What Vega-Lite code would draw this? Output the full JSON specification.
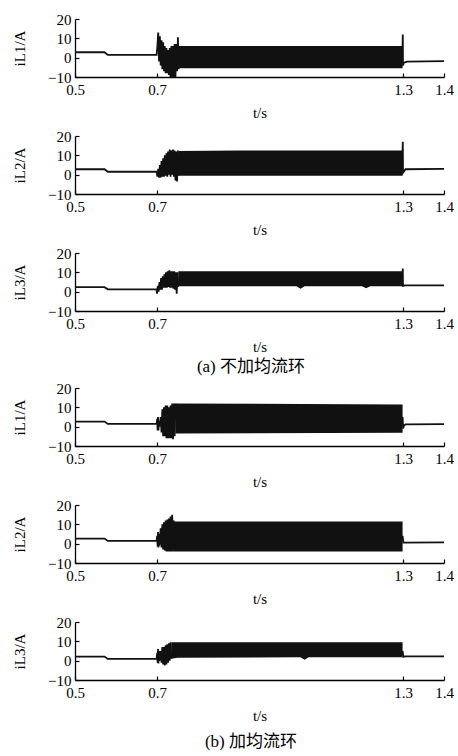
{
  "$schema": "https://vega.github.io/schema/vega-lite/v6.json",
  "padding": {"left": 12, "top": 12, "right": 0, "bottom": 0},
  "background": "white",
  "datasets": {
    "lines": [
      {"p":1,"seg":"a","t":0.5,"y":2.8},{"p":1,"seg":"a","t":0.572,"y":2.8},{"p":1,"seg":"a","t":0.58,"y":1.4},{"p":1,"seg":"a","t":0.699,"y":1.4},
      {"p":1,"seg":"a","t":0.701,"y":6},{"p":1,"seg":"a","t":0.703,"y":13},{"p":1,"seg":"a","t":0.705,"y":-2},{"p":1,"seg":"a","t":0.707,"y":11},{"p":1,"seg":"a","t":0.709,"y":-4},{"p":1,"seg":"a","t":0.711,"y":9},{"p":1,"seg":"a","t":0.713,"y":-6},{"p":1,"seg":"a","t":0.715,"y":8},{"p":1,"seg":"a","t":0.717,"y":-7},{"p":1,"seg":"a","t":0.719,"y":6},{"p":1,"seg":"a","t":0.721,"y":-8},{"p":1,"seg":"a","t":0.723,"y":5},{"p":1,"seg":"a","t":0.725,"y":-8},{"p":1,"seg":"a","t":0.727,"y":4},{"p":1,"seg":"a","t":0.729,"y":-9},{"p":1,"seg":"a","t":0.731,"y":5},{"p":1,"seg":"a","t":0.733,"y":-10},{"p":1,"seg":"a","t":0.735,"y":6},{"p":1,"seg":"a","t":0.737,"y":-10},{"p":1,"seg":"a","t":0.739,"y":6},{"p":1,"seg":"a","t":0.741,"y":-10},{"p":1,"seg":"a","t":0.743,"y":7},{"p":1,"seg":"a","t":0.745,"y":-10},{"p":1,"seg":"a","t":0.747,"y":7},{"p":1,"seg":"a","t":0.749,"y":-7},{"p":1,"seg":"a","t":0.751,"y":10.5},{"p":1,"seg":"a","t":0.753,"y":-6},{"p":1,"seg":"a","t":0.755,"y":6},
      {"p":1,"seg":"b","t":1.299,"y":6},{"p":1,"seg":"b","t":1.2995,"y":12},{"p":1,"seg":"b","t":1.3,"y":-4},{"p":1,"seg":"b","t":1.302,"y":-2.6},{"p":1,"seg":"b","t":1.31,"y":-2},{"p":1,"seg":"b","t":1.4,"y":-1.8},

      {"p":2,"seg":"a","t":0.5,"y":2.8},{"p":2,"seg":"a","t":0.572,"y":2.8},{"p":2,"seg":"a","t":0.58,"y":1.5},{"p":2,"seg":"a","t":0.699,"y":1.5},
      {"p":2,"seg":"a","t":0.701,"y":-1},{"p":2,"seg":"a","t":0.703,"y":3},{"p":2,"seg":"a","t":0.705,"y":-1.5},{"p":2,"seg":"a","t":0.707,"y":5},{"p":2,"seg":"a","t":0.709,"y":-1.5},{"p":2,"seg":"a","t":0.711,"y":7},{"p":2,"seg":"a","t":0.713,"y":-1},{"p":2,"seg":"a","t":0.715,"y":8.5},{"p":2,"seg":"a","t":0.717,"y":-1},{"p":2,"seg":"a","t":0.719,"y":10},{"p":2,"seg":"a","t":0.721,"y":-0.5},{"p":2,"seg":"a","t":0.723,"y":11},{"p":2,"seg":"a","t":0.725,"y":-1},{"p":2,"seg":"a","t":0.727,"y":12},{"p":2,"seg":"a","t":0.729,"y":0},{"p":2,"seg":"a","t":0.731,"y":13},{"p":2,"seg":"a","t":0.733,"y":-1},{"p":2,"seg":"a","t":0.735,"y":12.5},{"p":2,"seg":"a","t":0.737,"y":0},{"p":2,"seg":"a","t":0.739,"y":13},{"p":2,"seg":"a","t":0.741,"y":-1},{"p":2,"seg":"a","t":0.743,"y":12.5},{"p":2,"seg":"a","t":0.745,"y":-3},{"p":2,"seg":"a","t":0.747,"y":12},{"p":2,"seg":"a","t":0.749,"y":-3.5},{"p":2,"seg":"a","t":0.751,"y":12.5},{"p":2,"seg":"a","t":0.753,"y":-0.5},
      {"p":2,"seg":"b","t":1.299,"y":12},{"p":2,"seg":"b","t":1.2995,"y":17},{"p":2,"seg":"b","t":1.3,"y":1},{"p":2,"seg":"b","t":1.302,"y":1.5},{"p":2,"seg":"b","t":1.306,"y":2.8},{"p":2,"seg":"b","t":1.4,"y":3},

      {"p":3,"seg":"a","t":0.5,"y":2.3},{"p":3,"seg":"a","t":0.572,"y":2.3},{"p":3,"seg":"a","t":0.58,"y":1.2},{"p":3,"seg":"a","t":0.699,"y":1.2},
      {"p":3,"seg":"a","t":0.7,"y":-1},{"p":3,"seg":"a","t":0.702,"y":3},{"p":3,"seg":"a","t":0.704,"y":0},{"p":3,"seg":"a","t":0.706,"y":5},{"p":3,"seg":"a","t":0.708,"y":1},{"p":3,"seg":"a","t":0.71,"y":7},{"p":3,"seg":"a","t":0.712,"y":1},{"p":3,"seg":"a","t":0.714,"y":8},{"p":3,"seg":"a","t":0.716,"y":2},{"p":3,"seg":"a","t":0.718,"y":9},{"p":3,"seg":"a","t":0.72,"y":2},{"p":3,"seg":"a","t":0.722,"y":10},{"p":3,"seg":"a","t":0.724,"y":2},{"p":3,"seg":"a","t":0.726,"y":10.5},{"p":3,"seg":"a","t":0.728,"y":2.5},{"p":3,"seg":"a","t":0.73,"y":11},{"p":3,"seg":"a","t":0.732,"y":2},{"p":3,"seg":"a","t":0.734,"y":10.5},{"p":3,"seg":"a","t":0.736,"y":2},{"p":3,"seg":"a","t":0.738,"y":10.5},{"p":3,"seg":"a","t":0.74,"y":1.5},{"p":3,"seg":"a","t":0.742,"y":10.5},{"p":3,"seg":"a","t":0.744,"y":1},{"p":3,"seg":"a","t":0.746,"y":10},{"p":3,"seg":"a","t":0.748,"y":-1},{"p":3,"seg":"a","t":0.75,"y":10},{"p":3,"seg":"a","t":0.752,"y":2.5},
      {"p":3,"seg":"b","t":1.299,"y":10},{"p":3,"seg":"b","t":1.2995,"y":12},{"p":3,"seg":"b","t":1.3,"y":3},{"p":3,"seg":"b","t":1.305,"y":3.3},{"p":3,"seg":"b","t":1.4,"y":3.3},

      {"p":4,"seg":"a","t":0.5,"y":2.6},{"p":4,"seg":"a","t":0.572,"y":2.6},{"p":4,"seg":"a","t":0.58,"y":1.4},{"p":4,"seg":"a","t":0.699,"y":1.4},
      {"p":4,"seg":"a","t":0.7005,"y":4},{"p":4,"seg":"a","t":0.7015,"y":-2},{"p":4,"seg":"a","t":0.7025,"y":5},{"p":4,"seg":"a","t":0.7035,"y":-2},{"p":4,"seg":"a","t":0.7045,"y":3},{"p":4,"seg":"a","t":0.7055,"y":0},{"p":4,"seg":"a","t":0.707,"y":1.5},{"p":4,"seg":"a","t":0.709,"y":5},{"p":4,"seg":"a","t":0.711,"y":-3},{"p":4,"seg":"a","t":0.713,"y":9},{"p":4,"seg":"a","t":0.715,"y":-5},{"p":4,"seg":"a","t":0.717,"y":10},{"p":4,"seg":"a","t":0.719,"y":-5},{"p":4,"seg":"a","t":0.721,"y":11},{"p":4,"seg":"a","t":0.723,"y":-6},{"p":4,"seg":"a","t":0.725,"y":11},{"p":4,"seg":"a","t":0.727,"y":-6},{"p":4,"seg":"a","t":0.729,"y":10},{"p":4,"seg":"a","t":0.731,"y":-6},{"p":4,"seg":"a","t":0.733,"y":11},{"p":4,"seg":"a","t":0.735,"y":-6},{"p":4,"seg":"a","t":0.737,"y":12},{"p":4,"seg":"a","t":0.739,"y":-6.5},{"p":4,"seg":"a","t":0.741,"y":12},{"p":4,"seg":"a","t":0.743,"y":-5},{"p":4,"seg":"a","t":0.745,"y":12},
      {"p":4,"seg":"b","t":1.299,"y":5},{"p":4,"seg":"b","t":1.3005,"y":-1},{"p":4,"seg":"b","t":1.302,"y":0.5},{"p":4,"seg":"b","t":1.306,"y":1.2},{"p":4,"seg":"b","t":1.4,"y":1.3},

      {"p":5,"seg":"a","t":0.5,"y":2.6},{"p":5,"seg":"a","t":0.572,"y":2.6},{"p":5,"seg":"a","t":0.58,"y":1.4},{"p":5,"seg":"a","t":0.699,"y":1.4},
      {"p":5,"seg":"a","t":0.7005,"y":4},{"p":5,"seg":"a","t":0.7015,"y":-1.5},{"p":5,"seg":"a","t":0.7025,"y":6},{"p":5,"seg":"a","t":0.7035,"y":-2},{"p":5,"seg":"a","t":0.7045,"y":5},{"p":5,"seg":"a","t":0.7055,"y":-1},{"p":5,"seg":"a","t":0.707,"y":2},{"p":5,"seg":"a","t":0.709,"y":8},{"p":5,"seg":"a","t":0.711,"y":-2},{"p":5,"seg":"a","t":0.713,"y":10},{"p":5,"seg":"a","t":0.715,"y":-3},{"p":5,"seg":"a","t":0.717,"y":11},{"p":5,"seg":"a","t":0.719,"y":-3.5},{"p":5,"seg":"a","t":0.721,"y":12},{"p":5,"seg":"a","t":0.723,"y":-4},{"p":5,"seg":"a","t":0.725,"y":12.5},{"p":5,"seg":"a","t":0.727,"y":-4},{"p":5,"seg":"a","t":0.729,"y":13},{"p":5,"seg":"a","t":0.731,"y":-4},{"p":5,"seg":"a","t":0.733,"y":14},{"p":5,"seg":"a","t":0.735,"y":-4},{"p":5,"seg":"a","t":0.737,"y":15},{"p":5,"seg":"a","t":0.739,"y":-4},{"p":5,"seg":"a","t":0.741,"y":12},
      {"p":5,"seg":"b","t":1.299,"y":4},{"p":5,"seg":"b","t":1.301,"y":0.5},{"p":5,"seg":"b","t":1.4,"y":0.7},

      {"p":6,"seg":"a","t":0.5,"y":2.1},{"p":6,"seg":"a","t":0.572,"y":2.1},{"p":6,"seg":"a","t":0.58,"y":0.9},{"p":6,"seg":"a","t":0.699,"y":0.9},
      {"p":6,"seg":"a","t":0.7005,"y":4},{"p":6,"seg":"a","t":0.7015,"y":-1},{"p":6,"seg":"a","t":0.7025,"y":6},{"p":6,"seg":"a","t":0.7035,"y":-1.5},{"p":6,"seg":"a","t":0.7045,"y":5},{"p":6,"seg":"a","t":0.7055,"y":0},{"p":6,"seg":"a","t":0.707,"y":1},{"p":6,"seg":"a","t":0.709,"y":5},{"p":6,"seg":"a","t":0.711,"y":-1},{"p":6,"seg":"a","t":0.713,"y":7},{"p":6,"seg":"a","t":0.715,"y":-2},{"p":6,"seg":"a","t":0.717,"y":7},{"p":6,"seg":"a","t":0.719,"y":-2.5},{"p":6,"seg":"a","t":0.721,"y":8},{"p":6,"seg":"a","t":0.723,"y":-2},{"p":6,"seg":"a","t":0.725,"y":8.5},{"p":6,"seg":"a","t":0.727,"y":-1},{"p":6,"seg":"a","t":0.729,"y":9},{"p":6,"seg":"a","t":0.731,"y":0},{"p":6,"seg":"a","t":0.733,"y":9.5},{"p":6,"seg":"a","t":0.735,"y":1},
      {"p":6,"seg":"b","t":1.299,"y":5},{"p":6,"seg":"b","t":1.301,"y":2},{"p":6,"seg":"b","t":1.305,"y":2.2},{"p":6,"seg":"b","t":1.4,"y":2.2}
    ],
    "bands": [
      {"p":1,"t":0.754,"lo":-5.5,"hi":6},{"p":1,"t":1.299,"lo":-5.5,"hi":6},
      {"p":2,"t":0.752,"lo":-0.6,"hi":12.3},{"p":2,"t":0.9,"lo":-0.6,"hi":12.5},{"p":2,"t":1.299,"lo":-0.6,"hi":12.5},
      {"p":3,"t":0.752,"lo":2.8,"hi":10.5},{"p":3,"t":1.04,"lo":2.8,"hi":10.5},{"p":3,"t":1.05,"lo":1.5,"hi":10.5},{"p":3,"t":1.06,"lo":2.8,"hi":10.5},{"p":3,"t":1.2,"lo":2.8,"hi":10.5},{"p":3,"t":1.21,"lo":1.8,"hi":10.5},{"p":3,"t":1.22,"lo":2.8,"hi":10.5},{"p":3,"t":1.299,"lo":2.8,"hi":10.5},
      {"p":4,"t":0.745,"lo":-3.5,"hi":12},{"p":4,"t":1.299,"lo":-3.2,"hi":11.5},
      {"p":5,"t":0.741,"lo":-4,"hi":11.5},{"p":5,"t":1.299,"lo":-4,"hi":11.5},
      {"p":6,"t":0.735,"lo":1,"hi":9.5},{"p":6,"t":0.75,"lo":1.5,"hi":9.5},{"p":6,"t":1.05,"lo":1.8,"hi":9.5},{"p":6,"t":1.06,"lo":0.5,"hi":9.5},{"p":6,"t":1.07,"lo":1.8,"hi":9.5},{"p":6,"t":1.299,"lo":1.8,"hi":9.5}
    ]
  },
  "vconcat": [
    {
      "spacing": 9,
      "title": {"text": "(a) 不加均流环", "orient": "bottom", "anchor": "middle", "fontSize": 17, "fontWeight": "normal", "font": "Liberation Serif, Noto Sans CJK SC", "offset": 5, "dx": 18},
      "vconcat": [
        {"width": 369, "height": 58, "layer": [
          {"data": {"name": "bands"}, "transform": [{"filter": "datum.p == 1"}], "mark": {"type": "area", "color": "#111"},
           "encoding": {"x": {"field": "t", "type": "quantitative", "scale": {"domain": [0.5, 1.4]}, "axis": {"values": [0.5, 0.7, 1.3, 1.4], "format": ".1f", "title": "t/s"}},
                        "y": {"field": "lo", "type": "quantitative", "scale": {"domain": [-10, 20]}, "axis": {"values": [-10, 0, 10, 20], "title": "iL1/A"}},
                        "y2": {"field": "hi"}}},
          {"data": {"name": "lines"}, "transform": [{"filter": "datum.p == 1"}], "mark": {"type": "line", "color": "#111", "strokeWidth": 1.8},
           "encoding": {"x": {"field": "t", "type": "quantitative", "scale": {"domain": [0.5, 1.4]}, "axis": {"values": [0.5, 0.7, 1.3, 1.4], "format": ".1f", "title": "t/s"}},
                        "y": {"field": "y", "type": "quantitative", "scale": {"domain": [-10, 20]}, "axis": {"values": [-10, 0, 10, 20], "title": "iL1/A"}}, "detail": {"field": "seg"}}}
        ]},
        {"width": 369, "height": 58, "layer": [
          {"data": {"name": "bands"}, "transform": [{"filter": "datum.p == 2"}], "mark": {"type": "area", "color": "#111"},
           "encoding": {"x": {"field": "t", "type": "quantitative", "scale": {"domain": [0.5, 1.4]}, "axis": {"values": [0.5, 0.7, 1.3, 1.4], "format": ".1f", "title": "t/s"}},
                        "y": {"field": "lo", "type": "quantitative", "scale": {"domain": [-10, 20]}, "axis": {"values": [-10, 0, 10, 20], "title": "iL2/A"}},
                        "y2": {"field": "hi"}}},
          {"data": {"name": "lines"}, "transform": [{"filter": "datum.p == 2"}], "mark": {"type": "line", "color": "#111", "strokeWidth": 1.8},
           "encoding": {"x": {"field": "t", "type": "quantitative", "scale": {"domain": [0.5, 1.4]}, "axis": {"values": [0.5, 0.7, 1.3, 1.4], "format": ".1f", "title": "t/s"}},
                        "y": {"field": "y", "type": "quantitative", "scale": {"domain": [-10, 20]}, "axis": {"values": [-10, 0, 10, 20], "title": "iL2/A"}}, "detail": {"field": "seg"}}}
        ]},
        {"width": 369, "height": 58, "layer": [
          {"data": {"name": "bands"}, "transform": [{"filter": "datum.p == 3"}], "mark": {"type": "area", "color": "#111"},
           "encoding": {"x": {"field": "t", "type": "quantitative", "scale": {"domain": [0.5, 1.4]}, "axis": {"values": [0.5, 0.7, 1.3, 1.4], "format": ".1f", "title": "t/s"}},
                        "y": {"field": "lo", "type": "quantitative", "scale": {"domain": [-10, 20]}, "axis": {"values": [-10, 0, 10, 20], "title": "iL3/A"}},
                        "y2": {"field": "hi"}}},
          {"data": {"name": "lines"}, "transform": [{"filter": "datum.p == 3"}], "mark": {"type": "line", "color": "#111", "strokeWidth": 1.8},
           "encoding": {"x": {"field": "t", "type": "quantitative", "scale": {"domain": [0.5, 1.4]}, "axis": {"values": [0.5, 0.7, 1.3, 1.4], "format": ".1f", "title": "t/s"}},
                        "y": {"field": "y", "type": "quantitative", "scale": {"domain": [-10, 20]}, "axis": {"values": [-10, 0, 10, 20], "title": "iL3/A"}}, "detail": {"field": "seg"}}}
        ]}
      ]
    },
    {
      "spacing": 9,
      "title": {"text": "(b) 加均流环", "orient": "bottom", "anchor": "middle", "fontSize": 17, "fontWeight": "normal", "font": "Liberation Serif, Noto Sans CJK SC", "offset": 11, "dx": 18},
      "vconcat": [
        {"width": 369, "height": 58, "layer": [
          {"data": {"name": "bands"}, "transform": [{"filter": "datum.p == 4"}], "mark": {"type": "area", "color": "#111"},
           "encoding": {"x": {"field": "t", "type": "quantitative", "scale": {"domain": [0.5, 1.4]}, "axis": {"values": [0.5, 0.7, 1.3, 1.4], "format": ".1f", "title": "t/s"}},
                        "y": {"field": "lo", "type": "quantitative", "scale": {"domain": [-10, 20]}, "axis": {"values": [-10, 0, 10, 20], "title": "iL1/A"}},
                        "y2": {"field": "hi"}}},
          {"data": {"name": "lines"}, "transform": [{"filter": "datum.p == 4"}], "mark": {"type": "line", "color": "#111", "strokeWidth": 1.8},
           "encoding": {"x": {"field": "t", "type": "quantitative", "scale": {"domain": [0.5, 1.4]}, "axis": {"values": [0.5, 0.7, 1.3, 1.4], "format": ".1f", "title": "t/s"}},
                        "y": {"field": "y", "type": "quantitative", "scale": {"domain": [-10, 20]}, "axis": {"values": [-10, 0, 10, 20], "title": "iL1/A"}}, "detail": {"field": "seg"}}}
        ]},
        {"width": 369, "height": 58, "layer": [
          {"data": {"name": "bands"}, "transform": [{"filter": "datum.p == 5"}], "mark": {"type": "area", "color": "#111"},
           "encoding": {"x": {"field": "t", "type": "quantitative", "scale": {"domain": [0.5, 1.4]}, "axis": {"values": [0.5, 0.7, 1.3, 1.4], "format": ".1f", "title": "t/s"}},
                        "y": {"field": "lo", "type": "quantitative", "scale": {"domain": [-10, 20]}, "axis": {"values": [-10, 0, 10, 20], "title": "iL2/A"}},
                        "y2": {"field": "hi"}}},
          {"data": {"name": "lines"}, "transform": [{"filter": "datum.p == 5"}], "mark": {"type": "line", "color": "#111", "strokeWidth": 1.8},
           "encoding": {"x": {"field": "t", "type": "quantitative", "scale": {"domain": [0.5, 1.4]}, "axis": {"values": [0.5, 0.7, 1.3, 1.4], "format": ".1f", "title": "t/s"}},
                        "y": {"field": "y", "type": "quantitative", "scale": {"domain": [-10, 20]}, "axis": {"values": [-10, 0, 10, 20], "title": "iL2/A"}}, "detail": {"field": "seg"}}}
        ]},
        {"width": 369, "height": 58, "layer": [
          {"data": {"name": "bands"}, "transform": [{"filter": "datum.p == 6"}], "mark": {"type": "area", "color": "#111"},
           "encoding": {"x": {"field": "t", "type": "quantitative", "scale": {"domain": [0.5, 1.4]}, "axis": {"values": [0.5, 0.7, 1.3, 1.4], "format": ".1f", "title": "t/s"}},
                        "y": {"field": "lo", "type": "quantitative", "scale": {"domain": [-10, 20]}, "axis": {"values": [-10, 0, 10, 20], "title": "iL3/A"}},
                        "y2": {"field": "hi"}}},
          {"data": {"name": "lines"}, "transform": [{"filter": "datum.p == 6"}], "mark": {"type": "line", "color": "#111", "strokeWidth": 1.8},
           "encoding": {"x": {"field": "t", "type": "quantitative", "scale": {"domain": [0.5, 1.4]}, "axis": {"values": [0.5, 0.7, 1.3, 1.4], "format": ".1f", "title": "t/s"}},
                        "y": {"field": "y", "type": "quantitative", "scale": {"domain": [-10, 20]}, "axis": {"values": [-10, 0, 10, 20], "title": "iL3/A"}}, "detail": {"field": "seg"}}}
        ]}
      ]
    }
  ],
  "spacing": 6,
  "config": {
    "view": {"stroke": null},
    "font": "Liberation Serif",
    "axis": {"grid": false, "domainColor": "#000", "domainWidth": 1.3, "tickColor": "#000", "tickWidth": 1.2, "tickSize": -4,
             "labelColor": "#000", "titleColor": "#000", "labelFont": "Liberation Serif", "titleFont": "Liberation Serif",
             "labelFontSize": 15, "titleFontSize": 15, "titleFontWeight": "normal", "labelFlush": false, "labelOverlap": false},
    "axisX": {"labelPadding": 9, "titlePadding": 8},
    "axisY": {"labelPadding": 8, "titlePadding": 20}
  }
}
